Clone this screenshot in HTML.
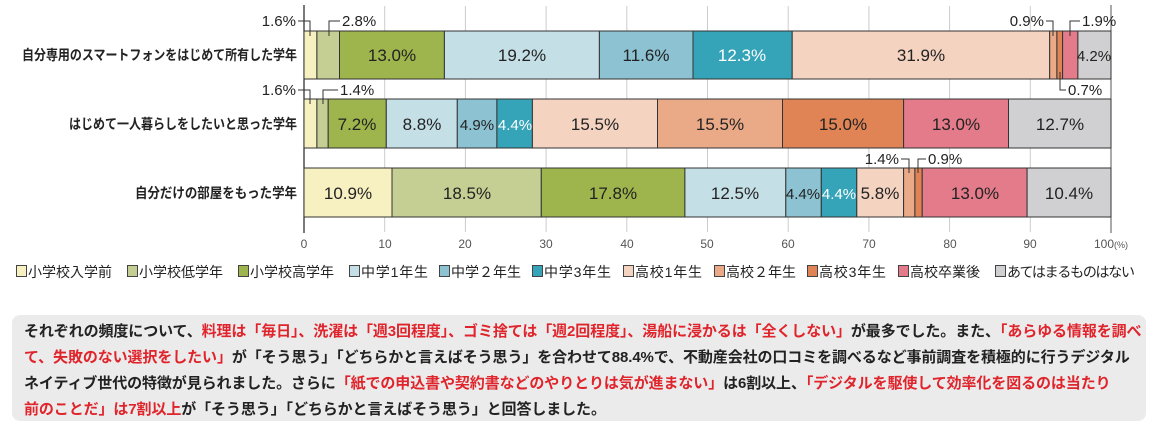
<!DOCTYPE html>
<html><head><meta charset="utf-8"><style>
body{margin:0;width:1158px;height:429px;background:#fff;overflow:hidden;font-family:"Liberation Sans","Noto Sans CJK JP",sans-serif;}
svg{position:absolute;left:0;top:0}
.box{position:absolute;left:12px;top:315px;width:1134px;height:106px;background:#ebebec;border-radius:8px;}
.t{position:absolute;left:24px;font-size:15px;font-weight:bold;color:#222;white-space:nowrap;letter-spacing:-0.1px;}
.r{color:#e0242b}
</style></head><body>
<svg width="1158" height="300" font-family="Liberation Sans, Noto Sans CJK JP, sans-serif">
<g stroke="#ccc" stroke-width="1">
<line x1="384.7" y1="6" x2="384.7" y2="232"/><line x1="465.4" y1="6" x2="465.4" y2="232"/><line x1="546.1" y1="6" x2="546.1" y2="232"/><line x1="626.8" y1="6" x2="626.8" y2="232"/><line x1="707.5" y1="6" x2="707.5" y2="232"/><line x1="788.2" y1="6" x2="788.2" y2="232"/><line x1="868.9" y1="6" x2="868.9" y2="232"/><line x1="949.6" y1="6" x2="949.6" y2="232"/><line x1="1030.3" y1="6" x2="1030.3" y2="232"/>
</g>
<line x1="304" y1="5" x2="304" y2="233" stroke="#222" stroke-width="1.2"/>
<line x1="1111" y1="5" x2="1111" y2="233" stroke="#555" stroke-width="1"/>
<g stroke="#333" stroke-width="1">
<rect x="304" y="31" width="12.9" height="48" fill="#f7f0c0"/>
<rect x="316.9" y="31" width="22.6" height="48" fill="#c5cf94"/>
<rect x="339.5" y="31" width="104.9" height="48" fill="#9db54c"/>
<rect x="444.4" y="31" width="155" height="48" fill="#c5dfe6"/>
<rect x="599.4" y="31" width="93.6" height="48" fill="#8dc2d2"/>
<rect x="693" y="31" width="99.2" height="48" fill="#35a4b8"/>
<rect x="792.2" y="31" width="257.5" height="48" fill="#f4d3c0"/>
<rect x="1049.7" y="31" width="7.2" height="48" fill="#eaaa88"/>
<rect x="1056.9" y="31" width="5.7" height="48" fill="#e08456"/>
<rect x="1062.6" y="31" width="15.3" height="48" fill="#e37b8a"/>
<rect x="1077.9" y="31" width="33.1" height="48" fill="#d0d0d2"/>
<rect x="304" y="99" width="12.9" height="49" fill="#f7f0c0"/>
<rect x="316.9" y="99" width="11.3" height="49" fill="#c5cf94"/>
<rect x="328.2" y="99" width="58.1" height="49" fill="#9db54c"/>
<rect x="386.3" y="99" width="71" height="49" fill="#c5dfe6"/>
<rect x="457.3" y="99" width="39.6" height="49" fill="#8dc2d2"/>
<rect x="496.9" y="99" width="35.5" height="49" fill="#35a4b8"/>
<rect x="532.4" y="99" width="125.1" height="49" fill="#f4d3c0"/>
<rect x="657.5" y="99" width="125" height="49" fill="#eaaa88"/>
<rect x="782.5" y="99" width="121.1" height="49" fill="#e08456"/>
<rect x="903.6" y="99" width="104.9" height="49" fill="#e37b8a"/>
<rect x="1008.5" y="99" width="102.5" height="49" fill="#d0d0d2"/>
<rect x="304" y="168" width="88" height="49" fill="#f7f0c0"/>
<rect x="392" y="168" width="149.3" height="49" fill="#c5cf94"/>
<rect x="541.3" y="168" width="143.6" height="49" fill="#9db54c"/>
<rect x="684.9" y="168" width="100.9" height="49" fill="#c5dfe6"/>
<rect x="785.8" y="168" width="35.5" height="49" fill="#8dc2d2"/>
<rect x="821.3" y="168" width="35.5" height="49" fill="#35a4b8"/>
<rect x="856.8" y="168" width="46.8" height="49" fill="#f4d3c0"/>
<rect x="903.6" y="168" width="11.3" height="49" fill="#eaaa88"/>
<rect x="914.9" y="168" width="7.3" height="49" fill="#e08456"/>
<rect x="922.2" y="168" width="104.9" height="49" fill="#e37b8a"/>
<rect x="1027.1" y="168" width="83.9" height="49" fill="#d0d0d2"/>
</g>
<g stroke="#333" stroke-width="1" fill="none">
<polyline points="298,21 310,21 310,36"/>
<polyline points="340,21 329,21 329,36"/>
<polyline points="298,90 310,90 310,104"/>
<polyline points="338,90 323,90 323,104"/>
<polyline points="1046,21 1053,21 1053,36"/>
<polyline points="1080,21 1070,21 1070,36"/>
<polyline points="1060,72 1060,90 1066,90"/>
<polyline points="901,159 909,159 909,173"/>
<polyline points="926,159 918,159 918,173"/>
</g>
<g font-size="15" fill="#222">
<text x="296" y="26" text-anchor="end">1.6%</text>
<text x="342" y="26">2.8%</text>
<text x="296" y="95" text-anchor="end">1.6%</text>
<text x="340" y="95">1.4%</text>
<text x="1044" y="26" text-anchor="end">0.9%</text>
<text x="1082" y="26">1.9%</text>
<text x="1068" y="95">0.7%</text>
<text x="899" y="164" text-anchor="end">1.4%</text>
<text x="928" y="164">0.9%</text>
</g>
<g font-size="17" fill="#222" text-anchor="middle">
<text x="392" y="61">13.0%</text><text x="522" y="61">19.2%</text><text x="646" y="61">11.6%</text><text x="742" y="61" fill="#fff">12.3%</text><text x="921" y="61">31.9%</text><text x="1094" y="61" font-size="15">4.2%</text>
<text x="357" y="130">7.2%</text><text x="422" y="130">8.8%</text><text x="477" y="130" font-size="15">4.9%</text><text x="515" y="130" font-size="15" fill="#fff">4.4%</text><text x="595" y="130">15.5%</text><text x="720" y="130">15.5%</text><text x="843" y="130">15.0%</text><text x="956" y="130">13.0%</text><text x="1060" y="130">12.7%</text>
<text x="348" y="199">10.9%</text><text x="467" y="199">18.5%</text><text x="613" y="199">17.8%</text><text x="735" y="199">12.5%</text><text x="803" y="199" font-size="15">4.4%</text><text x="839" y="199" font-size="15" fill="#fff">4.4%</text><text x="880" y="199">5.8%</text><text x="975" y="199">13.0%</text><text x="1069" y="199">10.4%</text>
</g>
<g font-size="14" font-weight="bold" fill="#222">
<text x="22" y="60" textLength="275" lengthAdjust="spacingAndGlyphs">自分専用のスマートフォンをはじめて所有した学年</text>
<text x="69" y="129" textLength="228" lengthAdjust="spacingAndGlyphs">はじめて一人暮らしをしたいと思った学年</text>
<text x="135" y="198" textLength="162" lengthAdjust="spacingAndGlyphs">自分だけの部屋をもった学年</text>
</g>
<g font-size="12" fill="#555" text-anchor="middle">
<text x="304" y="248">0</text><text x="385" y="248">10</text><text x="465" y="248">20</text><text x="546" y="248">30</text><text x="627" y="248">40</text><text x="707" y="248">50</text><text x="788" y="248">60</text><text x="869" y="248">70</text><text x="950" y="248">80</text><text x="1030" y="248">90</text><text x="1111" y="248">100<tspan font-size="9">(%)</tspan></text>
</g>
<g stroke="#444" stroke-width="1">
<rect x="16.5" y="265.5" width="10" height="11" fill="#f7f0c0"/>
<rect x="127.5" y="265.5" width="10" height="11" fill="#c5cf94"/>
<rect x="238.5" y="265.5" width="10" height="11" fill="#9db54c"/>
<rect x="349.5" y="265.5" width="10" height="11" fill="#c5dfe6"/>
<rect x="439.5" y="265.5" width="10" height="11" fill="#8dc2d2"/>
<rect x="532.5" y="265.5" width="10" height="11" fill="#35a4b8"/>
<rect x="623.5" y="265.5" width="10" height="11" fill="#f4d3c0"/>
<rect x="714.5" y="265.5" width="10" height="11" fill="#eaaa88"/>
<rect x="807.5" y="265.5" width="10" height="11" fill="#e08456"/>
<rect x="898.5" y="265.5" width="10" height="11" fill="#e37b8a"/>
<rect x="995.5" y="265.5" width="10" height="11" fill="#d0d0d2"/>
</g>
<g font-size="14" fill="#222">
<text x="28" y="277" textLength="84">小学校入学前</text><text x="139" y="277" textLength="84">小学校低学年</text><text x="250" y="277" textLength="84">小学校高学年</text><text x="361" y="277" textLength="67">中学1年生</text><text x="451" y="277" textLength="70">中学２年生</text><text x="544" y="277" textLength="67">中学3年生</text><text x="635" y="277" textLength="67">高校1年生</text><text x="726" y="277" textLength="70">高校２年生</text><text x="819" y="277" textLength="67">高校3年生</text><text x="910" y="277" textLength="70">高校卒業後</text><text x="1007" y="277" textLength="128">あてはまるものはない</text>
</g>
</svg>
<div class="box"></div>
<div class="t" style="top:320px">それぞれの頻度について、<span class="r">料理は「毎日」、洗濯は「週3回程度」、ゴミ捨ては「週2回程度」、湯船に浸かるは「全くしない」</span>が最多でした。また、<span class="r">「あらゆる情報を調べ</span></div>
<div class="t" style="top:346px"><span class="r">て、失敗のない選択をしたい」</span>が「そう思う」「どちらかと言えばそう思う」を合わせて88.4%で、不動産会社の口コミを調べるなど事前調査を積極的に行うデジタル</div>
<div class="t" style="top:372px">ネイティブ世代の特徴が見られました。さらに<span class="r">「紙での申込書や契約書などのやりとりは気が進まない」</span>は6割以上、<span class="r">「デジタルを駆使して効率化を図るのは当たり</span></div>
<div class="t" style="top:398px"><span class="r">前のことだ」は7割以上</span>が「そう思う」「どちらかと言えばそう思う」と回答しました。</div>
</body></html>
